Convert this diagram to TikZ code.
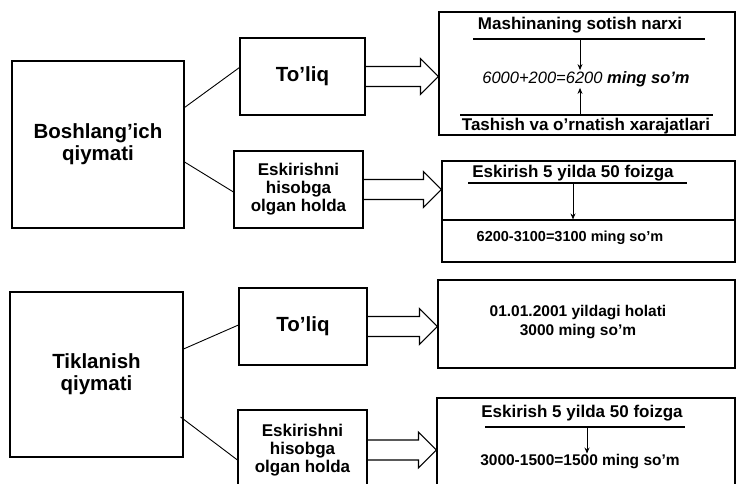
\documentclass[tikz,border=0pt]{standalone}
\usepackage{fontspec}
\setmainfont{Liberation Sans}
\usetikzlibrary{calc,arrows.meta}

\begin{document}
\begin{tikzpicture}[x=1pt,y=-1pt,
	box/.style={draw,line width=1.1pt,inner sep=0pt,align=center},
	lefttext/.style={font=\bfseries\fontsize{20.5}{22}\selectfont},
	midtext/.style={font=\bfseries\fontsize{17}{18}\selectfont},
	restext/.style={font=\bfseries\fontsize{17}{19}\selectfont,inner sep=1pt,align=center},
	fatarrow/.style={line width=1.1pt,line join=miter},
	linkline/.style={line width=0.9pt},
	underline/.style={line width=1.1pt},
	smallarrow/.style={line width=0.9pt,-{Stealth[length=6pt,width=5pt]}}]
	\useasboundingbox (0,0) rectangle (737,484);
	\clip (0,0) rectangle (737,484);
	
	%BOXES -- LEFT
	\node[box,lefttext,minimum width=172,minimum height=167] (bosh) at (98,144.5) {Boshlang'ich\\qiymati};
	\node[box,lefttext,minimum width=173,minimum height=165] (tik) at (96.5,374.5) {Tiklanish\\qiymati};
	
	%BOXES -- MIDDLE
	\node[box,lefttext,minimum width=125,minimum height=77] (full1) at (302.5,76.5) {To’liq};
	\node[box,midtext,minimum width=129,minimum height=77] (dep1) at (298.5,189.5) {Eskirishni\\hisobga\\olgan holda};
	\node[box,lefttext,minimum width=128,minimum height=77] (full2) at (303,326.5) {To’liq};
	\node[box,midtext,minimum width=129,minimum height=80] (dep2) at (302.5,450) {Eskirishni\\hisobga\\olgan holda};
	
	%BOXES -- RIGHT
	\node[box,minimum width=296,minimum height=123] (res1) at (587,73.5) {};
	\node[box,minimum width=293,minimum height=59] (res2a) at (588.5,190.5) {};
	\node[box,minimum width=293,minimum height=42] (res2b) at (588.5,241) {};
	\node[box,minimum width=297,minimum height=88] (res3) at (586.5,324) {};
	\node[box,minimum width=298,minimum height=94] (res4) at (586,445) {};
	
	%links
	\draw[linkline] ($(bosh.east)+(0,-37)$) -- ($(full1.west)+(0,-9)$);
	\draw[linkline] ($(bosh.east)+(0,17.5)$) -- ($(dep1.west)+(0,2.5)$);
	\draw[linkline] ($(tik.east)+(0,-25.5)$) -- ($(full2.west)+(0,-1.5)$);
	\draw[linkline] ($(tik.east)+(-3,42.5)$) -- ($(dep2.west)+(0,10)$);
	
	%fat arrows
	\foreach \a/\b in {full1/res1,dep1/res2a,full2/res3,dep2/res4}
	\draw[fatarrow] (\a.east) ++(0,-10) -- ($(\b.west |- \a.east)+(-18,-10)$) -- ++(0,-8) -- (\b.west |- \a.east) -- ++(-18,18) -- ++(0,-8) -- ($(\a.east)+(0,10)$);
	
	%LABELS -- TOP RIGHT
	\node[restext] (sale) at (580,25) {Mashinaning sotish narxi};
	\node[restext,font=\itshape\fontsize{16.5}{19}\selectfont] (sum1) at (586,79) {6000+200=6200 \textbf{ming so'm}};
	\node[restext] (trans) at (586,126) {Tashish va o'rnatish xarajatlari};
	\draw[underline] (473,39) -- (705,39);
	\draw[underline] (460,115) -- (713,115);
	\coordinate (u1) at (580,39);
	\coordinate (u2) at (580,115);
	\draw[smallarrow] (u1) -- (u1 |- sum1.north);
	\draw[smallarrow] (u2) -- (u2 |- sum1.south);
	
	%LABELS -- SECOND
	\node[restext] (rate1) at (573,173) {Eskirish 5 yilda 50 foizga};
	\draw[underline] (468,183) -- (687,183);
	\coordinate (u3) at (573,183);
	\draw[smallarrow] (u3) -- (u3 |- res2b.north);
	\node[restext,font=\bfseries\fontsize{14.5}{17}\selectfont] (sum2) at (570,238) {6200-3100=3100 ming so'm};
	
	%LABELS -- THIRD
	\node[restext,font=\bfseries\fontsize{15.5}{19}\selectfont] (state) at (578,322.5) {01.01.2001 yildagi holati\\3000 ming so'm};
	
	%LABELS -- BOTTOM RIGHT
	\node[restext] (rate2) at (582,413) {Eskirish 5 yilda 50 foizga};
	\draw[underline] (485,427) -- (685,427);
	\coordinate (u4) at (587,427);
	\node[restext,font=\bfseries\fontsize{15.5}{19}\selectfont] (sum4) at (580,462) {3000-1500=1500 ming so'm};
	\draw[smallarrow] (u4) -- (u4 |- sum4.north);
	
\end{tikzpicture}
\end{document}
